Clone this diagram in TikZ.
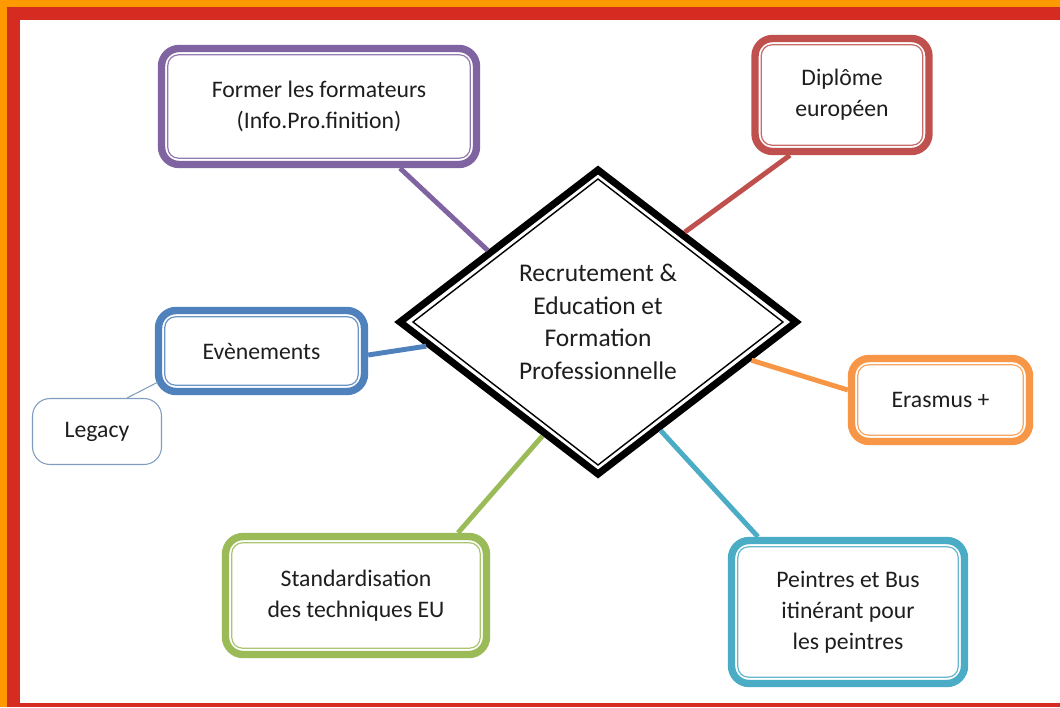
\documentclass[tikz,border=0pt]{standalone}
\usepackage{fontspec}
\setmainfont{Carlito}
\usepackage{tikz}
\usetikzlibrary{positioning,shapes.geometric,calc}
\definecolor{cpurple}{HTML}{8064A2}
\definecolor{cred}{HTML}{C0504D}
\definecolor{cblue}{HTML}{4F81BD}
\definecolor{corange}{HTML}{F79646}
\definecolor{ccyan}{HTML}{4BACC6}
\definecolor{cgreen}{HTML}{9BBB59}
\definecolor{frameorange}{HTML}{FF9900}
\definecolor{framered}{HTML}{D62B20}
\definecolor{legacyline}{HTML}{7F9DBF}
\definecolor{txt}{HTML}{1E1E1E}
\tikzset{
    branch/.style = {
        draw=#1,
        shape=rectangle,
        rounded corners=10pt,
        line width=4.2pt,
        fill=white,
        align=center,
        text=txt,
        font=\fontsize{13.5}{17.5}\selectfont
    },
    hub/.style = {
        draw=black,
        shape=diamond,
        line width=4pt,
        fill=white,
        align=center,
        text=txt,
        minimum width=7.98cm,
        minimum height=6.14cm,
        font=\fontsize{14.5}{18.5}\selectfont
    },
    leaf/.style = {
        draw=legacyline,
        shape=rectangle,
        rounded corners=10pt,
        line width=0.6pt,
        fill=white,
        text=txt,
        font=\fontsize{13.5}{17.5}\selectfont
    },
    link/.style = {
        line width=2.8pt,
        draw=#1
    },
}

\begin{document}
\begin{tikzpicture}[x=0.02cm, y=-0.02cm]
                \fill[frameorange] (0,0) rectangle (1060,707);
                \fill[framered] (7,7) rectangle (1060,707);
                \fill[white] (20,20) rectangle (1060,703);

                \node[hub] (hub) at (598,322) {Recrutement \&\\Education et\\Formation\\Professionnelle};
                \node[branch=cpurple, minimum width=6.3cm, minimum height=2.32cm] (former) at (319,106.5) {Former les formateurs\\(Info.Pro.finition)};
                \node[branch=cred, minimum width=3.48cm, minimum height=2.26cm] (diplome) at (842,95) {Diplôme\\européen};
                \node[branch=cblue, minimum width=4.12cm, minimum height=1.62cm] (events) at (261.5,351) {Evènements};
                \node[branch=corange, minimum width=3.56cm, minimum height=1.66cm] (erasmus) at (940.5,400) {Erasmus +};
                \node[branch=ccyan, minimum width=4.66cm, minimum height=2.86cm] (painters) at (848,612) {Peintres et Bus\\itinérant pour\\les peintres};
                \node[branch=cgreen, minimum width=5.22cm, minimum height=2.36cm] (standard) at (356,595.5) {Standardisation\\des techniques EU};
                \node[leaf, minimum width=2.58cm, minimum height=1.32cm] (legacy) at (97,431.5) {Legacy};

                \foreach \n/\c in {former/cpurple, diplome/cred, events/cblue, erasmus/corange, painters/ccyan, standard/cgreen}
                    \draw[\c!85, line width=0.7pt, rounded corners=6pt] ([shift={(10,10)}]\n.north west) rectangle ([shift={(-10,-10)}]\n.south east);
                \draw[black, line width=0.8pt] ([shift={(0,14)}]hub.north) -- ([shift={(-18,0)}]hub.east) -- ([shift={(0,-14)}]hub.south) -- ([shift={(18,0)}]hub.west) -- cycle;

                \path[link=cpurple] ([shift={(81,0)}]former.south) -- (hub.147);
                \path[link=cred] ([shift={(-52,0)}]diplome.south) -- (hub.46);
                \path[link=cblue] ([shift={(0,4)}]events.east) -- (hub.188);
                \path[link=corange] ([shift={(0,-10)}]erasmus.west) -- (hub.346);
                \path[link=ccyan] ([shift={(-90,0)}]painters.north) -- (hub.300);
                \path[link=cgreen] ([shift={(102,0)}]standard.north) -- (hub.244);
                \path[draw, legacyline, line width=0.6pt] ([shift={(30,0)}]legacy.north) -- ([shift={(3,-13)}]events.south west);
            \end{tikzpicture}
\end{document}
